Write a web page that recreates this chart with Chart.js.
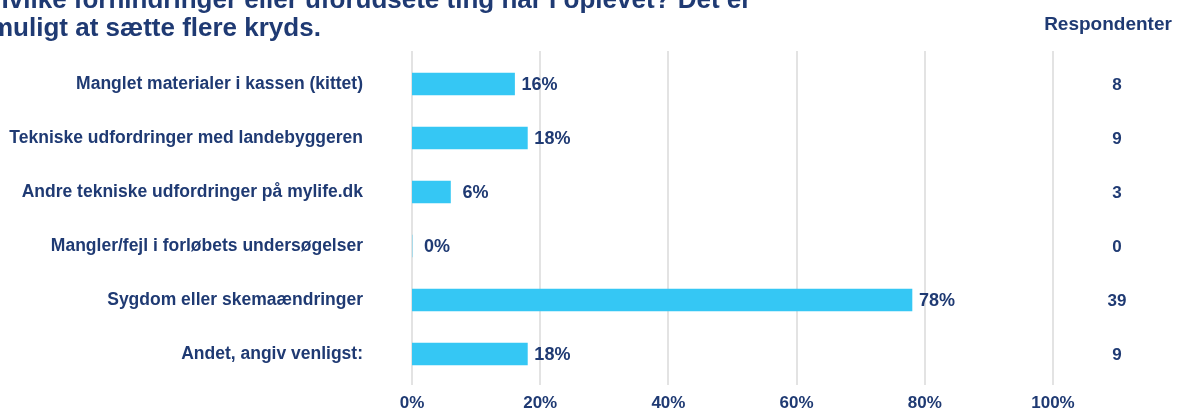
<!DOCTYPE html>
<html>
<head>
<meta charset="utf-8">
<script src="https://cdn.jsdelivr.net/npm/chart.js@4"></script>
<style>
  html, body { margin: 0; padding: 0; background: #fff; overflow: hidden; }
  #wrap { position: relative; width: 1177px; height: 408px; }
</style>
</head>
<body>
<div id="wrap"><canvas id="chart"></canvas></div>
<script>
const titleLines = [
    'Hvilke forhindringer eller uforudsete ting har I oplevet? Det er',
    'muligt at sætte flere kryds.'
];
const categories = [
    'Manglet materialer i kassen (kittet)',
    'Tekniske udfordringer med landebyggeren',
    'Andre tekniske udfordringer på mylife.dk',
    'Mangler/fejl i forløbets undersøgelser',
    'Sygdom eller skemaændringer',
    'Andet, angiv venligst:'
];
const percentValues = [16, 18, 6, 0, 78, 18];
const respondentCounts = [8, 9, 3, 0, 39, 9];
const xTicks = [0, 20, 40, 60, 80, 100];

const navy = '#1f3a73';
const barColor = '#35c7f4';
const fontFamily = '"Liberation Sans", Arial, sans-serif';

// vertical grid lines, a bit taller than the plot area
const gridPlugin = {
    id: 'gridLines',
    beforeDatasetsDraw(chart) {
        const ctx = chart.ctx;
        const area = chart.chartArea;
        const xScale = chart.scales.x;
        ctx.save();
        ctx.strokeStyle = '#e3e3e3';
        ctx.lineWidth = 2;
        xTicks.forEach(v => {
            const x = Math.round(xScale.getPixelForValue(v));
            ctx.beginPath();
            ctx.moveTo(x, area.top - 6);
            ctx.lineTo(x, area.bottom + 4);
            ctx.stroke();
        });
        ctx.restore();
    }
};

// percent labels, respondent column and the heading
const textPlugin = {
    id: 'texts',
    afterDraw(chart) {
        const ctx = chart.ctx;
        const meta = chart.getDatasetMeta(0);
        const yScale = chart.scales.y;
        ctx.save();
        ctx.fillStyle = navy;
        ctx.textBaseline = 'middle';

        // value labels sit centred in a small box right after each bar
        ctx.font = 'bold 18px ' + fontFamily;
        ctx.textAlign = 'center';
        meta.data.forEach((bar, i) => {
            ctx.fillText(percentValues[i] + '%', bar.x + 25, bar.y + 1);
        });

        ctx.font = 'bold 17px ' + fontFamily;
        respondentCounts.forEach((n, i) => {
            ctx.fillText(String(n), 1117, yScale.getPixelForValue(i) + 1);
        });

        ctx.textBaseline = 'alphabetic';
        ctx.font = 'bold 19px ' + fontFamily;
        ctx.fillText('Respondenter', 1108, 30);

        // heading, partly outside the top edge
        ctx.textAlign = 'left';
        ctx.font = 'bold 26px ' + fontFamily;
        ctx.fillText(titleLines[0], -10, 8);
        ctx.fillText(titleLines[1], -10, 36);
        ctx.restore();
    }
};

new Chart(document.getElementById('chart'), {
    type: 'bar',
    data: {
        labels: categories,
        datasets: [{
            data: percentValues,
            backgroundColor: barColor,
            barThickness: 22
        }]
    },
    options: {
        indexAxis: 'y',
        responsive: true,
        maintainAspectRatio: false,
        animation: false,
        layout: { padding: { top: 57, right: 124, left: 0, bottom: 0 } },
        plugins: {
            legend: { display: false },
            tooltip: { enabled: false }
        },
        scales: {
            x: {
                min: 0,
                max: 100,
                afterBuildTicks: scale => {
                    scale.ticks = xTicks.map(v => ({ value: v }));
                },
                ticks: {
                    callback: v => v + '%',
                    color: navy,
                    font: { family: fontFamily, size: 17, weight: 'bold' },
                    padding: 4,
                    maxRotation: 0
                },
                grid: { display: false },
                border: { display: false },
                afterFit: scale => {
                    scale.height = 27;
                    scale.paddingLeft = 0;
                    scale.paddingRight = 0;
                }
            },
            y: {
                ticks: {
                    color: navy,
                    font: { family: fontFamily, size: 17.5, weight: 'bold' },
                    padding: 49
                },
                grid: { display: false, drawTicks: false },
                border: { display: false },
                afterFit: scale => {
                    scale.width = 412;
                    scale.paddingTop = 0;
                    scale.paddingBottom = 0;
                }
            }
        }
    },
    plugins: [gridPlugin, textPlugin]
});
</script>
</body>
</html>
